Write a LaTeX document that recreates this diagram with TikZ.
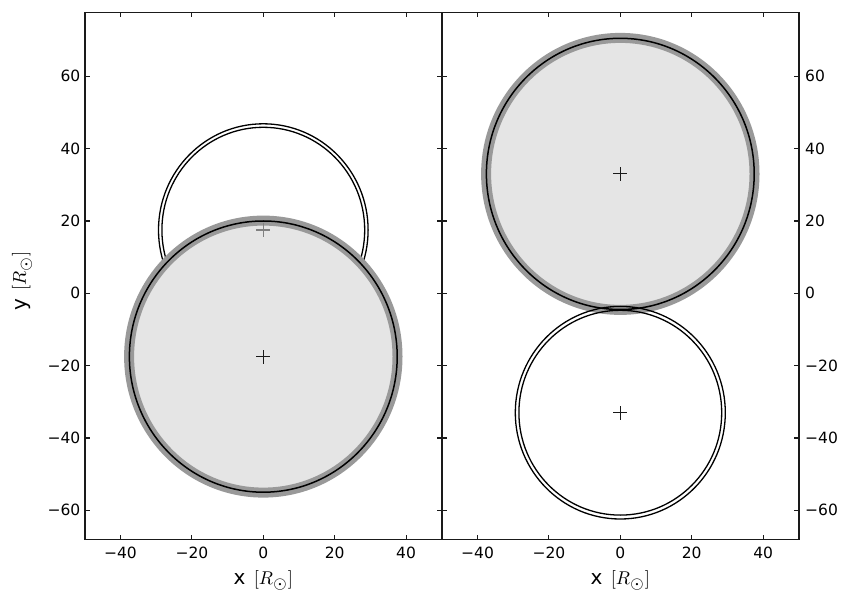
\documentclass[tikz,border=0pt]{standalone}
\usepackage{graphicx}
\usepackage{fontspec}
\setmainfont{DejaVu Sans}
\definecolor{fillg}{HTML}{E5E5E5}
\definecolor{bandg}{HTML}{999999}
\definecolor{spine}{HTML}{1A1A1A}
\newcommand{\rsun}{{\fontsize{10}{12}\selectfont\scalebox{1.85}{$[R_{\raisebox{-0.8pt}{\scalebox{1.2}{$\scriptstyle\odot$}}}]$}}}
\begin{document}
\begin{tikzpicture}[x=1pt,y=1pt,
  spinestyle/.style={draw=spine, line width=1.5pt},
  tickstyle/.style={draw=spine, line width=1.1pt},
  ticklab/.style={font=\fontsize{15.5}{18}\selectfont, inner sep=0pt},
  axlab/.style={font=\fontsize{20}{24}\selectfont, inner sep=0pt},
  band/.style={draw=bandg, line width=10pt, fill=fillg},
  rim/.style={draw=black, line width=1.5pt},
  ring/.style={draw=black, line width=1.3pt},
  plusmark/.style={draw=black!90, line width=1.1pt},
  plusgray/.style={draw=black!50, line width=1.1pt}]
\useasboundingbox (0,0) rectangle (850,600);

% ---------- left panel ----------
\coordinate (lu) at (263.3,370);
\coordinate (ll) at (263.3,243.4);
\draw[ring] (lu) ellipse [x radius=101.4, y radius=102.7];
\draw[ring] (lu) ellipse [x radius=104.8, y radius=106.2];
\draw[band] (ll) ellipse [x radius=134.2, y radius=136.0];
\draw[rim] (ll) ellipse [x radius=133.9, y radius=135.6];
\draw[plusgray] (lu) ++(-7,0) -- ++(14,0) (lu) ++(0,-7) -- ++(0,14);
\draw[plusmark] (ll) ++(-7,0) -- ++(14,0) (ll) ++(0,-7) -- ++(0,14);

% ---------- right panel ----------
\coordinate (ru) at (620.3,426.1);
\coordinate (rl) at (620.3,187.3);
\draw[band] (ru) ellipse [x radius=134.2, y radius=136.0];
\draw[rim] (ru) ellipse [x radius=133.9, y radius=135.6];
\draw[ring] (rl) ellipse [x radius=101.4, y radius=102.4];
\draw[ring] (rl) ellipse [x radius=105.0, y radius=106.3];
\draw[plusmark] (ru) ++(-7,0) -- ++(14,0) (ru) ++(0,-7) -- ++(0,14);
\draw[plusmark] (rl) ++(-7,0) -- ++(14,0) (rl) ++(0,-7) -- ++(0,14);

% ---------- ticks ----------
\foreach \v/\t in {-40/−40,-20/−20,0/0,20/20,40/40}{
  \draw[tickstyle] ({263.3+\v*3.57},60.5) -- ++(0,5);
  \draw[tickstyle] ({263.3+\v*3.57},587.5) -- ++(0,-5);
  \node[ticklab, anchor=north] (lx\v) at ({263.3+\v*3.57},53.3) {\t};
  \draw[tickstyle] ({620.3+\v*3.57},60.5) -- ++(0,5);
  \draw[tickstyle] ({620.3+\v*3.57},587.5) -- ++(0,-5);
  \node[ticklab, anchor=north] (rx\v) at ({620.3+\v*3.57},53.3) {\t};
}
\foreach \v/\t in {-60/−60,-40/−40,-20/−20,0/0,20/20,40/40,60/60}{
  \draw[tickstyle] (84.8,{306.7+\v*3.617}) -- ++(5,0);
  \draw[tickstyle] (441.8,{306.7+\v*3.617}) -- ++(-5,0);
  \draw[tickstyle] (441.8,{306.7+\v*3.617}) -- ++(5,0);
  \draw[tickstyle] (798.8,{306.7+\v*3.617}) -- ++(-5,0);
  \node[ticklab, anchor=east] (ly\v) at (80.5,{306.7+\v*3.617}) {\t};
  \node[ticklab, anchor=west] (ry\v) at (805,{306.7+\v*3.617}) {\t};
}

% ---------- spines ----------
\draw[spinestyle] (84.8,60.5) rectangle (441.8,587.5);
\draw[spinestyle] (441.8,60.5) rectangle (798.8,587.5);

% ---------- axis labels ----------
\node[axlab, anchor=base] (xl) at (263.3,16) {x\hspace{2pt} \rsun};
\node[axlab, anchor=base] (xr) at (620.3,16) {x\hspace{2pt} \rsun};
\node[axlab, anchor=base, rotate=90] (yl) at (26,319) {y\hspace{2pt} \rsun};
\end{tikzpicture}
\end{document}
